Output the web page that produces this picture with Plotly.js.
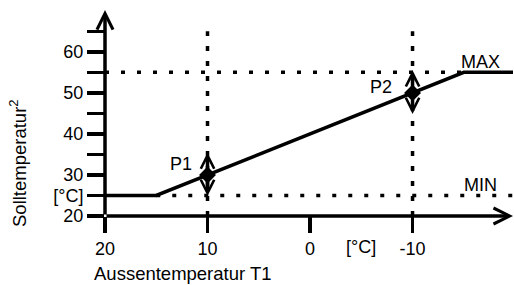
<!DOCTYPE html>
<html>
<head>
<meta charset="utf-8">
<script src="https://cdn.plot.ly/plotly-3.0.1.min.js"></script>
<style>html,body{margin:0;padding:0;background:#fff;}#chart{width:514px;height:285px;}</style>
</head>
<body>
<div id="chart"></div>
<script>
// Heating curve (x reversed: outside temperature)
const curveX = [20, 15, -15, -20];
const curveY = [25, 25, 55, 55];
const pointX = [10, -10];
const pointY = [30, 50];
const pointLabels = ['P1', 'P2'];
const pointSpread = 5.5;
const maxTemp = 55;
const minTemp = 25;
const limitLabels = ['MAX', 'MIN'];
const xTickVals = [20, 10, 0, -10];
const xTickText = ['20', '10', '0', '-10'];
const yTickVals = [20, 25, 30, 35, 40, 45, 50, 55, 60, 65];
const yTickText = ['20', '[°C]', '30', '', '40', '', '50', '', '60', ''];
const xUnitPos = -5;
const xTitle = 'Aussentemperatur T1';
const yTitle = 'Solltemperatur<sup>2</sup>';

const xRange = [20, -19.8];
const yRange = [20, 70.2];
const FONT = 'Liberation Sans, Arial, sans-serif';
const dotStyle = {color: '#000', width: 3.5, dash: '4px,12px'};
const vdotStyle = {color: '#000', width: 3.5, dash: '5px,10px'};

const traces = [
  {x: [xRange[0], curveX[2]], y: [maxTemp, maxTemp], mode: 'lines', line: dotStyle, hoverinfo: 'skip'},
  {x: [curveX[1], xRange[1]], y: [minTemp, minTemp], mode: 'lines', line: dotStyle, hoverinfo: 'skip'},
  {x: [pointX[0], pointX[0]], y: [yRange[0], 65], mode: 'lines', line: vdotStyle, hoverinfo: 'skip'},
  {x: [pointX[1], pointX[1]], y: [yRange[0], 65], mode: 'lines', line: vdotStyle, hoverinfo: 'skip'},
  {x: curveX, y: curveY, mode: 'lines', line: {color: '#000', width: 3.5}, hoverinfo: 'skip'},
  {x: pointX, y: pointY, mode: 'markers', marker: {symbol: 'diamond', size: 13, color: '#000'}, hoverinfo: 'skip'}
];

const annotations = [];
// axis lines with arrows
annotations.push({x: xRange[1], y: yRange[0], ax: xRange[0], ay: yRange[0], xref: 'x', yref: 'y', axref: 'x', ayref: 'y',
  showarrow: true, arrowhead: 5, arrowsize: 0.9, arrowwidth: 3.5, arrowcolor: '#000', text: '', standoff: 0});
annotations.push({x: xRange[0], y: yRange[1], ax: xRange[0], ay: yRange[0], xref: 'x', yref: 'y', axref: 'x', ayref: 'y',
  showarrow: true, arrowhead: 5, arrowsize: 0.9, arrowwidth: 3.5, arrowcolor: '#000', text: '', standoff: 0});
// double arrows at points
const labelShift = [[-14, 11], [-19, 6]];
pointX.forEach((px, i) => {
  annotations.push({x: px, y: pointY[i] + pointSpread, ax: px, ay: pointY[i] - pointSpread,
    xref: 'x', yref: 'y', axref: 'x', ayref: 'y', showarrow: true, arrowside: 'end+start',
    arrowhead: 5, startarrowhead: 5, arrowsize: 0.75, startarrowsize: 0.75, arrowwidth: 3.5, arrowcolor: '#000', text: '', standoff: 0, startstandoff: 0});
  annotations.push({x: px, y: pointY[i], xref: 'x', yref: 'y', text: pointLabels[i], showarrow: false,
    xanchor: 'right', yanchor: 'middle', xshift: labelShift[i][0], yshift: labelShift[i][1], font: {size: 18}});
});
annotations.push({x: -16.6, y: maxTemp, xref: 'x', yref: 'y', text: limitLabels[0], showarrow: false,
  xanchor: 'center', yanchor: 'bottom', yshift: -2, font: {size: 18}});
annotations.push({x: -16.6, y: minTemp, xref: 'x', yref: 'y', text: limitLabels[1], showarrow: false,
  xanchor: 'center', yanchor: 'bottom', yshift: -2, font: {size: 18}});
annotations.push({x: xUnitPos, y: yRange[0], xref: 'x', yref: 'y', text: '[°C]', showarrow: false,
  xanchor: 'center', yanchor: 'top', yshift: -19, font: {size: 18}});

const W = 514, H = 285, M = {l: 105, r: 1, t: 10, b: 69};
const pw = W - M.l - M.r, ph = H - M.t - M.b;
annotations.push({x: (92 - M.l) / pw, y: (H - M.b - 273) / ph, xref: 'paper', yref: 'paper', text: xTitle,
  showarrow: false, xanchor: 'left', yanchor: 'middle', font: {size: 18.5}});
annotations.push({x: (18 - M.l) / pw, y: (H - M.b - 163) / ph, xref: 'paper', yref: 'paper', text: yTitle,
  showarrow: false, textangle: -90, xanchor: 'center', yanchor: 'middle', font: {size: 18.5}});

const layout = {
  width: W, height: H, margin: M, showlegend: false,
  paper_bgcolor: '#fff', plot_bgcolor: '#fff',
  font: {family: FONT, size: 18, color: '#000'},
  xaxis: {range: xRange, showgrid: false, zeroline: false, showline: false,
    ticks: 'outside', ticklen: 16, tickwidth: 3.5, tickcolor: '#000', tickvals: xTickVals, ticktext: xTickText,
    tickfont: {size: 18}},
  yaxis: {range: yRange, showgrid: false, zeroline: false, showline: false,
    ticks: 'outside', ticklen: 17, tickwidth: 3.5, tickcolor: '#000', tickvals: yTickVals, ticktext: yTickText,
    tickfont: {size: 18}},
  annotations: annotations
};

Plotly.newPlot('chart', traces, layout, {staticPlot: true, displayModeBar: false});
</script>
</body>
</html>
